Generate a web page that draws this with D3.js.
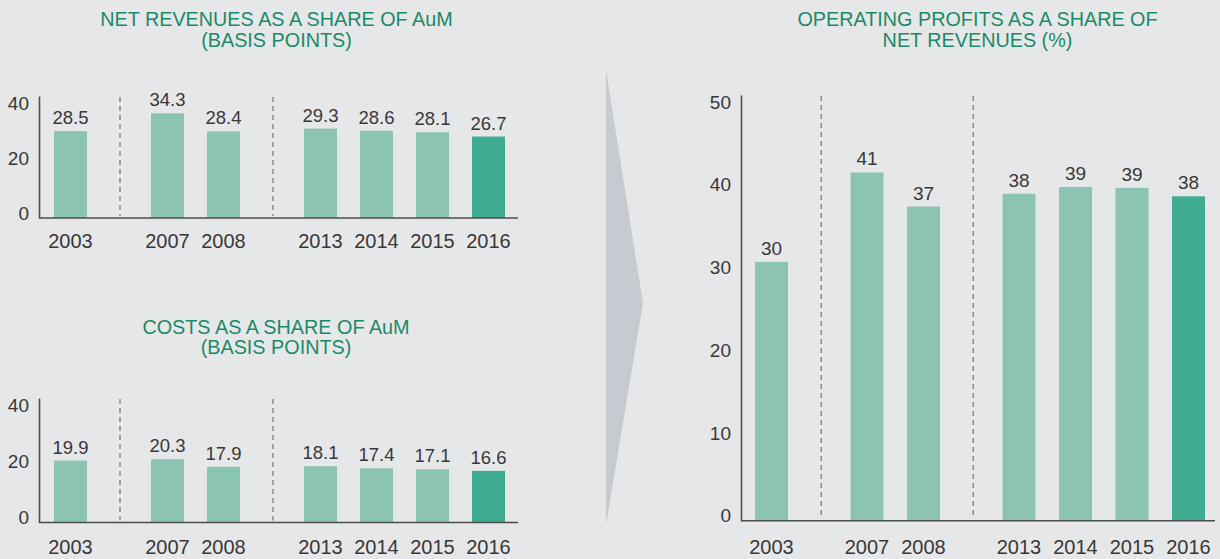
<!DOCTYPE html>
<html>
	<head>
		<meta charset="utf-8">
		<script src="https://cdnjs.cloudflare.com/ajax/libs/d3/7.8.5/d3.min.js"></script>
	</head>
	<style>
		body {
			margin: 0;
			background: #e6e7e9;
		}
		text {
			font-family: "Liberation Sans", Arial, sans-serif;
			fill: #383838;
		}
		.title {
			fill: #1b8a66;
			font-size: 19.8px;
		}
		.bar {
			fill: #8bc4b2;
		}
		.bar.last {
			fill: #3fac91;
		}
		.sep {
			stroke: #85898d;
			stroke-width: 1.5;
			stroke-dasharray: 5,4;
		}
		.axisline path, .baseline {
			stroke: #4d4d4d;
			stroke-width: 1.6;
		}
	</style>
	<body>
		<script>
			var width = 1220,
				height = 559;

			// data
			var years = ["2003", "2007", "2008", "2013", "2014", "2015", "2016"];
			var yearGroup = [0, 1, 1, 2, 2, 2, 2];
			var netRevenues = [28.5, 34.3, 28.4, 29.3, 28.6, 28.1, 26.7];
			var costs = [19.9, 20.3, 17.9, 18.1, 17.4, 17.1, 16.6];
			var opProfits = [30.4, 40.9, 36.9, 38.4, 39.2, 39.1, 38.1];
			var bpTicks = [0, 20, 40];
			var pctTicks = [0, 10, 20, 30, 40, 50];
			var revTitle = ["NET REVENUES AS A SHARE OF AuM", "(BASIS POINTS)"];
			var costTitle = ["COSTS AS A SHARE OF AuM", "(BASIS POINTS)"];
			var profitTitle = ["OPERATING PROFITS AS A SHARE OF", "NET REVENUES (%)"];

			var svg = d3.select("body").append("svg")
				.attr("width", width)
				.attr("height", height);

			svg.append("rect")
				.attr("width", width)
				.attr("height", height)
				.attr("fill", "#e6e7e9");

			// the grey chevron between the two halves
			svg.append("polygon")
				.attr("points", "606,70 643,303 606,525")
				.attr("fill", "#c6cbd1");

			function drawChart(c) {
				var g = svg.append("g");
				var pad = 1 - c.bw / c.step;
				var band = d3.scaleBand()
					.domain(years)
					.range([c.firstBar, c.firstBar + c.step * (years.length - pad)])
					.paddingInner(pad)
					.paddingOuter(0);
				var x = function(i) { return band(years[i]) + c.gap * yearGroup[i]; };

				var y = d3.scaleLinear().domain([0, c.max]).range([c.base, c.top]);
				// labels sit inside the axis span: top one hangs, bottom one sits
				var yLab = d3.scaleLinear().domain([0, c.max]).range([c.base - 5, c.top + 7]);

				// title
				g.append("text")
					.attr("class", "title")
					.attr("text-anchor", "middle")
					.selectAll("tspan")
					.data(c.title)
					.join("tspan")
					.attr("x", c.titleX)
					.attr("y", function(d, i) { return c.titleY + i * 20.5; })
					.text(function(d) { return d; });

				// dashed separators between the year groups
				var seps = [];
				for (var i = 1; i < years.length; i++) {
					if (yearGroup[i] != yearGroup[i - 1]) {
						seps.push((x(i - 1) + band.bandwidth() + x(i)) / 2 + c.sepShift);
					}
				}
				g.selectAll(".sep")
					.data(seps)
					.join("line")
					.attr("class", "sep")
					.attr("x1", function(d) { return d; })
					.attr("x2", function(d) { return d; })
					.attr("y1", c.top + 1)
					.attr("y2", c.base - 2);

				g.selectAll(".bar")
					.data(c.values)
					.join("rect")
					.attr("class", function(d, i) { return i == years.length - 1 ? "bar last" : "bar"; })
					.attr("x", function(d, i) { return x(i); })
					.attr("width", band.bandwidth())
					.attr("y", function(d) { return y(d); })
					.attr("height", function(d) { return c.base - y(d); });

				g.selectAll(".val")
					.data(c.values)
					.join("text")
					.attr("class", "val")
					.attr("text-anchor", "middle")
					.attr("font-size", c.valSize)
					.attr("x", function(d, i) { return x(i) + band.bandwidth() / 2; })
					.attr("y", function(d) { return y(d) - 7; })
					.text(c.fmt);

				g.selectAll(".yr")
					.data(years)
					.join("text")
					.attr("class", "yr")
					.attr("text-anchor", "middle")
					.attr("font-size", 20)
					.attr("x", function(d, i) { return x(i) + band.bandwidth() / 2; })
					.attr("y", c.base + c.yearDy)
					.text(function(d) { return d; });

				// vertical axis line
				g.append("g")
					.attr("class", "axisline")
					.attr("transform", "translate(" + c.axisX + ",0)")
					.call(d3.axisLeft(y).tickValues([]).tickSizeOuter(0));

				// tick labels
				var lab = g.append("g")
					.attr("transform", "translate(" + c.axisX + ",0)")
					.call(d3.axisLeft(yLab).tickValues(c.ticks).tickSize(0).tickPadding(10));
				lab.select(".domain").remove();
				lab.selectAll("text")
					.attr("font-size", 19)
					.attr("font-family", null)
					.attr("fill", "#383838");

				g.append("line")
					.attr("class", "baseline")
					.attr("x1", c.axisX)
					.attr("x2", c.right)
					.attr("y1", c.base)
					.attr("y2", c.base);
			}

			drawChart({
				values: netRevenues, ticks: bpTicks, max: 40, fmt: d3.format(".1f"),
				axisX: 39, right: 518, top: 96, base: 218,
				firstBar: 54, step: 56, gap: 41, bw: 33, sepShift: 1,
				valSize: 18.5, yearDy: 30,
				title: revTitle, titleX: 276.5, titleY: 26
			});

			drawChart({
				values: costs, ticks: bpTicks, max: 40, fmt: d3.format(".1f"),
				axisX: 39, right: 518, top: 398, base: 522.5,
				firstBar: 54, step: 56, gap: 41, bw: 33, sepShift: 1,
				valSize: 18.5, yearDy: 31.5,
				title: costTitle, titleX: 276, titleY: 333.5
			});

			drawChart({
				values: opProfits, ticks: pctTicks, max: 50, fmt: d3.format(".0f"),
				axisX: 741, right: 1215, top: 95, base: 520.7,
				firstBar: 755, step: 56.5, gap: 39, bw: 33, sepShift: 2,
				valSize: 19, yearDy: 33,
				title: profitTitle, titleX: 977.5, titleY: 26
			});
		</script>
	</body>
</html>
